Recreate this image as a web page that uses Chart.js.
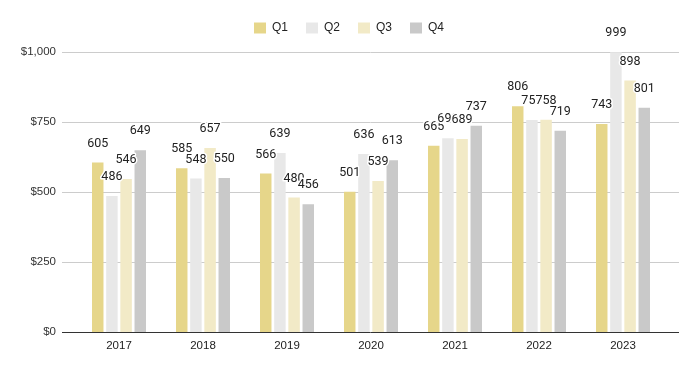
<!DOCTYPE html>
<html>
<head>
<meta charset="utf-8">
<script src="https://cdn.jsdelivr.net/npm/chart.js@4/dist/chart.umd.min.js"></script>
<style>
html,body{margin:0;padding:0;background:#fff;}
#wrap{width:698px;height:371px;position:relative;}
</style>
</head>
<body>
<div id="wrap"><canvas id="c" width="698" height="371"></canvas></div>
<script>
const years = ['2017','2018','2019','2020','2021','2022','2023'];
const seriesNames = ['Q1','Q2','Q3','Q4'];
const q1 = [605, 585, 566, 501, 665, 806, 743];
const q2 = [486, 548, 639, 636, 692, 757, 999];
const q3 = [546, 657, 480, 539, 689, 758, 898];
const q4 = [649, 550, 456, 613, 737, 719, 801];
const yTicks = [0, 250, 500, 750, 1000];
const colors = ['#e6d68a', '#e8e8e8', '#f2eac7', '#c9c9c9'];

const gridPlugin = {
  id: 'grid',
  beforeDatasetsDraw(chart) {
    const ctx = chart.ctx;
    const y = chart.scales.y;
    ctx.save();
    y.ticks.forEach(t => {
      const py = Math.round(y.getPixelForValue(t.value)) + 0.5;
      ctx.beginPath();
      ctx.strokeStyle = t.value === 0 ? '#333333' : '#cccccc';
      ctx.lineWidth = 1;
      ctx.moveTo(62, py);
      ctx.lineTo(679, py);
      ctx.stroke();
    });
    ctx.restore();
  }
};

const labelPlugin = {
  id: 'vlabels',
  afterDatasetsDraw(chart) {
    const ctx = chart.ctx;
    ctx.save();
    ctx.font = '12.5px Roboto, "Liberation Sans", Arial, sans-serif';
    ctx.textAlign = 'center';
    ctx.textBaseline = 'middle';
    ctx.lineJoin = 'round';
    ctx.lineWidth = 3;
    ctx.strokeStyle = '#ffffff';
    ctx.fillStyle = '#222222';
    chart.data.datasets.forEach((ds, di) => {
      const meta = chart.getDatasetMeta(di);
      meta.data.forEach((el, i) => {
        const txt = String(ds.data[i]);
        ctx.strokeText(txt, el.x, el.y - 19);
        ctx.fillText(txt, el.x, el.y - 19);
      });
    });
    ctx.restore();
  }
};

const data = {
  labels: years,
  datasets: [q1, q2, q3, q4].map((d, i) => ({
    label: seriesNames[i],
    data: d,
    backgroundColor: colors[i],
    borderWidth: 0,
    categoryPercentage: 0.675,
    barPercentage: 0.81
  }))
};

const font = { family: '"Liberation Sans", Arial, sans-serif', size: 11.5 };

new Chart(document.getElementById('c'), {
  type: 'bar',
  data,
  plugins: [gridPlugin, labelPlugin],
  options: {
    responsive: false,
    animation: false,
    layout: { padding: { left: 0, right: 0, top: 4, bottom: 0 } },
    plugins: {
      tooltip: { enabled: false },
      legend: {
        position: 'top',
        align: 'center',
        labels: {
          boxWidth: 12,
          boxHeight: 11,
          padding: 18,
          color: '#222222',
          font: { family: '"Liberation Sans", Arial, sans-serif', size: 12 }
        }
      }
    },
    scales: {
      x: {
        afterFit(s) { s.height = 39; },
        grid: { display: false, drawTicks: false },
        border: { display: false },
        ticks: { color: '#222222', padding: 7, font }
      },
      xTop: {
        type: 'category',
        position: 'top',
        afterFit(s) { s.height = 8; },
        grid: { display: false, drawTicks: false },
        border: { display: false },
        ticks: { display: false }
      },
      y: {
        min: 0,
        max: 1000,
        afterFit(s) { s.width = 77; },
        afterBuildTicks(s) { s.ticks = yTicks.map(v => ({ value: v })); },
        grid: { display: false, drawTicks: false },
        border: { display: false },
        ticks: {
          color: '#333333',
          padding: 21,
          font,
          callback: v => '$' + Number(v).toLocaleString('en-US')
        }
      },
      yRight: {
        type: 'linear',
        position: 'right',
        afterFit(s) { s.width = 33; },
        grid: { display: false, drawTicks: false },
        border: { display: false },
        ticks: { display: false }
      }
    }
  }
});
</script>
</body>
</html>
